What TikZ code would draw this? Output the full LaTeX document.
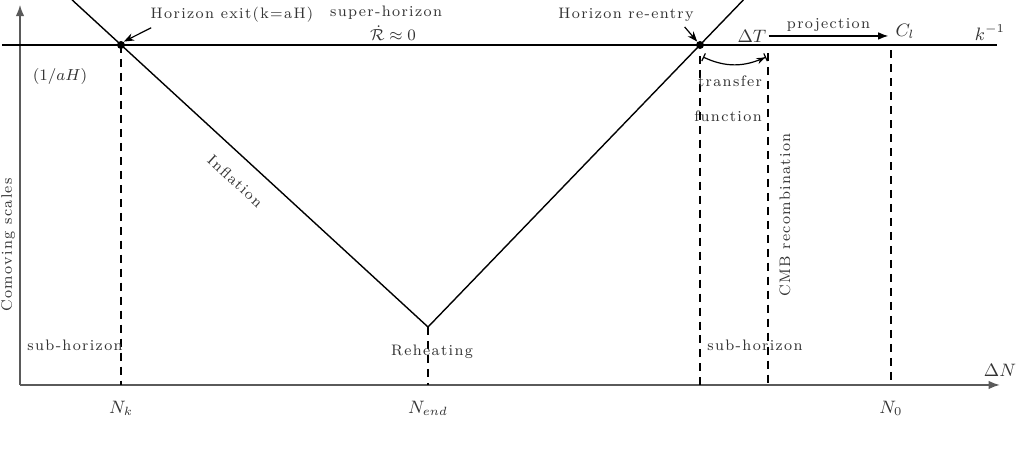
\documentclass[tikz,border=0pt]{standalone}
\usepackage{amsmath,amssymb}
\usepackage{fontspec}
\newfontfamily\spacedfont{Latin Modern Roman}[LetterSpace=9]
\usepackage{xcolor}
\usepackage{tikz}
\usetikzlibrary{arrows.meta}
\definecolor{axisgray}{HTML}{5A5A5A}
\definecolor{txtgray}{HTML}{333333}
\tikzset{axis/.style={-{Latex[length=2mm]},axisgray,line width=0.9pt},
horizon/.style={line width=1.3pt},
track/.style={line width=0.7pt},
guide/.style={dash pattern=on 4pt off 3pt,line width=0.6pt},
lbl/.style={font=\fontsize{7.6}{9}\selectfont\spacedfont,text=txtgray,inner sep=1pt},
mlbl/.style={font=\fontsize{8.8}{10}\selectfont,text=txtgray,inner sep=1pt},
pointer/.style={-{Stealth[length=1.8mm]},line width=0.6pt}}

\begin{document}
\begin{tikzpicture}
\useasboundingbox (0,0) rectangle (18,7.883);
% axes
\coordinate (O) at (0.352,1.109);
\coordinate (ytop) at (0.352,7.80);
\coordinate (xend) at (17.595,1.109);
\draw[axis] (O)--(ytop);
\draw[axis] (O)--(xend);
% horizon scale k^{-1}
\coordinate (hl) at (0.035,7.091);
\coordinate (hr) at (17.54,7.091);
\draw[horizon] (hl)--(hr);
% comoving Hubble radius
\coordinate (exit) at (2.129,7.091);
\coordinate (reh) at (7.531,2.129);
\coordinate (reentry) at (12.317,7.091);
\draw[track] (1.27,7.883)--(reh)--(13.079,7.883);
\fill (exit) circle(0.07);
\fill (reentry) circle(0.07);
% dashed markers
\draw[guide] (exit)--(exit|-O);
\draw[guide] (reh)--(reh|-O);
\draw[guide] (12.317,6.90)--(12.317,1.109);
\draw[guide] (13.513,6.95)--(13.513,1.109);
\draw[guide] (15.677,7.00)--(15.677,1.109);
% top labels
\node[lbl] (exitlbl) at (4.082,7.62) {Horizon exit(k=aH)};
\draw[pointer] (exitlbl.south west)++(0.05,-0.05) -- ([shift={(0.05,0.06)}]exit);
\node[lbl,inner sep=0pt] (superlbl) at (6.792,7.66) {super-horizon};
\node[lbl,inner sep=0pt,anchor=base] (rdot) at (6.915,7.17) {$\dot{\mathcal{R}}\approx 0$};
\node[lbl] (reentrylbl) at (11.015,7.62) {Horizon re-entry};
\draw[pointer] (reentrylbl.south east)++(-0.2,-0.05) -- ([shift={(-0.05,0.06)}]reentry);
\node[mlbl] (dT) at (13.231,7.25) {$\Delta T$};
\node[mlbl] (Cl) at (15.924,7.33) {$C_l$};
\draw[-{Latex[length=1.8mm]},line width=0.6pt] (dT.east)--(15.63,7.25) node[midway,above=1pt,lbl] (proj) {projection};
\node[mlbl] (kinv) at (17.419,7.31) {$k^{-1}$};
% transfer
\coordinate (tfa) at (12.37,6.88);
\coordinate (tfb) at (13.48,6.88);
\draw[{Bar[width=1.5mm]}-{Stealth[length=1.5mm]Bar[width=1.5mm]},line width=0.6pt] (tfa) to[bend right=25] (tfb);
\node[lbl] (tr) at (12.844,6.458) {transfer};
\node[lbl] (fn) at (12.81,5.842) {function};
\node[lbl,rotate=90] (cmb) at (13.812,4.1) {CMB recombination};
% other labels
\node[lbl] (invaH) at (1.056,6.528) {$(1/aH)$};
\node[lbl,rotate=90] (ylbl) at (0.141,3.572) {Comoving scales};
\node[lbl,rotate=-42.6] (infl) at (4.14,4.70) {Inflation};
\node[lbl] (subl) at (1.32,1.813) {sub-horizon};
\node[lbl] (subr) at (13.284,1.813) {sub-horizon};
\node[lbl] (rehlbl) at (7.601,1.69) {Reheating};
\node[mlbl] (Nk) at (2.129,0.704) {$N_k$};
\node[mlbl] (Nend) at (7.531,0.704) {$N_{end}$};
\node[mlbl] (N0) at (15.677,0.704) {$N_0$};
\node[mlbl] (dN) at (17.595,1.372) {$\Delta N$};
\end{tikzpicture}
\end{document}
